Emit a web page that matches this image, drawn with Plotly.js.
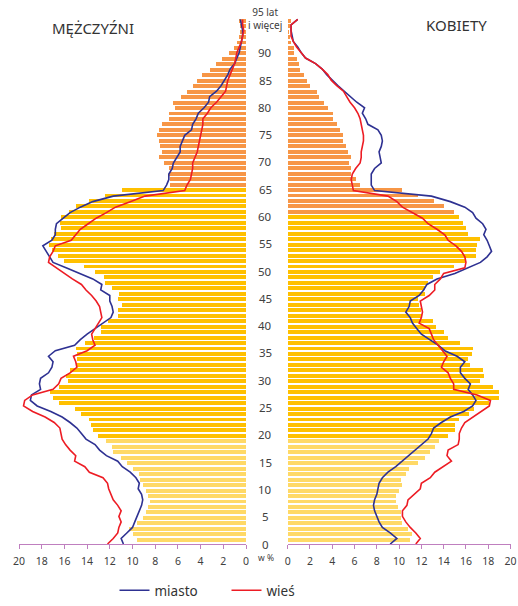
<!DOCTYPE html>
<html><head><meta charset="utf-8">
<script src="https://cdn.plot.ly/plotly-3.0.1.min.js"></script>
<style>html,body{margin:0;padding:0;background:#fff}#chart{width:518px;height:606px}</style>
</head><body><div id="chart"></div>
<script>
// ages 0..95 (95 = "95 lat i więcej")
const ages = Array.from({length: 96}, (_, i) => i);
const tickAges = [0,5,10,15,20,25,30,35,40,45,50,55,60,65,70,75,80,85,90];
const tickLabels = ["0","5","10","15","20","25","30","35","40","45","50","55","60","65","70","75","80","85","90"];
const topLabel = "95 lat<br>i więcej";

// total population bars, men (left) and women (right)
const menTotal = [9.6,10.0,10.3,9.6,9.1,8.8,8.6,8.5,8.6,8.8,
 9.1,9.3,9.4,10.0,10.5,11.0,11.7,11.8,12.3,13.0,
 13.5,13.7,13.8,14.5,15.1,16.5,17.0,17.3,16.5,15.7,
 15.9,15.5,15.0,14.9,14.9,15.0,14.2,13.4,12.8,12.8,
 12.2,11.3,11.3,10.9,11.3,11.2,11.8,12.4,12.5,13.3,
 14.3,16.0,16.6,17.1,17.4,17.2,16.9,16.3,16.4,16.3,
 15.6,15.0,13.8,12.4,10.9,6.7,6.7,6.8,6.8,7.2,
 7.7,7.4,7.6,7.7,7.8,7.7,7.4,6.8,6.8,6.3,
 6.4,5.7,5.2,4.7,4.3,3.9,3.2,2.6,2.1,1.5,
 1.1,0.8,0.6,0.5,0.5,0.6];
const womenTotal = [11.0,11.2,10.8,10.3,10.2,10.2,9.9,9.7,9.7,10.0,
 10.3,10.2,10.6,10.9,11.7,12.3,12.8,13.2,13.6,14.4,
 15.0,15.0,15.4,16.3,16.7,18.1,19.0,19.0,18.4,17.3,
 17.6,17.5,16.4,16.2,16.5,16.6,15.5,14.4,14.0,13.3,
 13.0,12.1,12.0,11.8,11.7,12.3,12.3,12.6,13.0,13.7,
 14.9,15.9,16.9,16.9,17.0,17.3,16.2,16.0,15.7,15.4,
 14.9,14.0,13.1,11.7,10.3,6.5,6.1,5.7,5.7,5.5,
 5.7,5.4,5.2,5.0,5.0,4.7,4.4,4.1,4.1,3.6,
 3.3,2.8,2.6,2.0,1.7,1.5,1.1,0.97,0.8,0.53,
 0.53,0.3,0.2,0.12,0.18,0.26];

// lines: miasto (city) and wieś (village)
const menCity = [10.8,11.0,10.5,10.0,9.8,9.6,9.4,9.2,9.1,9.2,
 9.5,9.4,9.7,10.2,10.9,11.3,12.3,12.9,13.3,14.1,
 14.5,14.9,15.5,16.2,17.2,18.4,19.0,18.9,18.1,18.2,
 18.1,17.4,17.1,17.0,17.4,16.8,15.1,14.6,14.0,13.3,
 12.6,11.9,11.7,11.8,12.0,12.0,12.8,12.7,13.5,14.6,
 15.8,17.0,17.3,17.6,17.9,17.1,16.8,16.8,16.7,16.1,
 15.5,14.6,13.5,11.7,7.3,7.0,6.8,6.8,6.5,6.4,
 6.1,5.8,5.8,5.6,5.4,4.8,4.7,4.4,4.2,3.7,
 3.3,3.2,2.6,2.2,1.9,1.6,1.4,1.0,0.8,0.6,
 0.5,0.4,0.3,0.3,0.4,0.5];
const menRural = [12.2,11.7,11.3,11.2,11.0,11.2,11.0,11.3,11.7,11.9,
 12.1,12.2,12.6,13.8,14.2,15.1,15.0,15.5,15.9,16.2,
 16.3,16.4,16.9,17.7,18.8,19.6,19.5,18.8,17.0,16.5,
 16.3,15.5,14.9,15.0,15.2,14.0,13.3,13.5,13.6,13.3,
 13.0,12.7,12.8,12.9,13.2,13.6,14.1,14.5,15.3,16.0,
 16.8,17.4,17.3,17.0,16.8,15.4,15.0,14.6,13.9,13.2,
 12.3,11.5,10.2,8.9,5.4,5.2,4.9,4.8,4.7,4.7,
 4.5,4.3,4.2,4.1,4.0,3.9,3.8,3.8,3.4,3.1,
 2.6,2.2,1.8,1.7,1.6,1.4,1.2,1.0,0.9,0.8,
 0.6,0.4,0.3,0.2,0.3,0.3];
const womenCity = [9.2,9.8,9.2,8.5,8.2,8.0,7.8,7.7,7.8,8.0,
 8.1,8.2,8.5,9.0,9.7,10.3,10.9,11.5,12.1,12.6,
 12.9,13.1,13.8,14.6,15.8,16.6,16.9,16.6,16.2,16.4,
 15.9,15.5,15.5,15.9,15.2,14.1,13.5,12.7,12.0,11.6,
 11.2,11.0,10.6,10.9,11.0,11.8,12.2,12.5,13.4,15.0,
 16.1,17.3,17.9,18.3,18.1,17.9,17.6,17.8,17.5,16.9,
 16.6,15.9,14.6,12.9,7.8,7.5,7.5,7.5,7.8,8.4,
 8.3,8.2,8.4,8.5,8.4,8.1,7.2,7.0,6.7,6.9,
 6.2,5.6,5.0,4.5,4.0,3.5,3.1,2.5,1.6,1.2,
 0.9,0.5,0.4,0.3,0.3,0.9];
const womenRural = [11.5,11.9,11.5,11.0,10.6,10.3,10.3,10.7,10.8,11.4,
 11.9,12.0,12.8,13.2,14.0,14.7,14.3,14.4,15.3,15.4,
 15.4,15.6,15.9,16.6,17.4,18.1,18.2,17.0,14.9,14.9,
 14.6,14.4,13.8,14.0,14.3,13.9,13.5,13.1,12.9,12.7,
 11.8,12.0,12.1,12.0,11.9,12.7,13.2,13.2,13.7,14.0,
 15.9,16.0,15.9,15.6,15.1,14.4,14.1,13.4,12.6,12.1,
 11.2,10.3,9.8,9.0,5.9,5.8,5.7,5.8,6.1,6.5,
 6.6,6.6,6.7,6.8,6.8,6.7,6.6,6.5,6.3,6.0,
 5.6,5.3,5.0,4.4,3.9,3.6,3.1,2.5,1.6,1.2,
 0.8,0.5,0.3,0.3,0.3,0.9];

const xTicks = [0,2,4,6,8,10,12,14,16,18,20];

// styling
const C_LIGHT = '#FFD966', C_YELLOW = '#FFC000', C_ORANGE = '#F79646';
const C_CITY = '#2E3192', C_RURAL = '#ED1C24';
const AXC = '#BF7FBF';
function barColors(retAge){
  return ages.map(a => a <= 18 ? C_LIGHT : (a < retAge ? C_YELLOW : C_ORANGE));
}
const FONT = 'Noto Sans, Open Sans, sans-serif';

const traces = [
  {type:'bar', orientation:'h', x: menTotal, y: ages, xaxis:'x', yaxis:'y',
   marker:{color: barColors(65), line:{width:0}}, width:0.72, showlegend:false, hoverinfo:'skip'},
  {type:'bar', orientation:'h', x: womenTotal, y: ages, xaxis:'x2', yaxis:'y',
   marker:{color: barColors(60), line:{width:0}}, width:0.72, showlegend:false, hoverinfo:'skip'},
  {type:'scatter', mode:'lines', x: menCity, y: ages, xaxis:'x', yaxis:'y2',
   line:{color:C_CITY, width:1.6}, name:'miasto', legendgroup:'m', showlegend:true},
  {type:'scatter', mode:'lines', x: menRural, y: ages, xaxis:'x', yaxis:'y2',
   line:{color:C_RURAL, width:1.6}, name:'wieś', legendgroup:'w', showlegend:true},
  {type:'scatter', mode:'lines', x: womenCity, y: ages, xaxis:'x2', yaxis:'y2',
   line:{color:C_CITY, width:1.6}, name:'miasto', legendgroup:'m', showlegend:false},
  {type:'scatter', mode:'lines', x: womenRural, y: ages, xaxis:'x2', yaxis:'y2',
   line:{color:C_RURAL, width:1.6}, name:'wieś', legendgroup:'w', showlegend:false}
];

const axBase = {
  tickvals: xTicks, ticktext: xTicks.map(String), showgrid:false, zeroline:false,
  showline:true, linecolor:AXC, linewidth:1.2, ticks:'outside', ticklen:4, tickcolor:AXC,
  tickfont:{size:10.5, color:'#404040', family:FONT}, anchor:'y', fixedrange:true,
  ticklabeloverflow:'allow', ticklabelstandoff:3
};

// age labels in the middle column (slightly below each bar row, as in the source)
const PLOT_H = 538, AGE_PX = 5.52;
const annotations = tickAges.map((a, i) => ({
  text: tickLabels[i], x: 0.5116, xref:'paper', y: a * AGE_PX / PLOT_H, yref:'paper',
  showarrow:false, xanchor:'center', yanchor:'middle',
  font:{size:11.5, color:'#404040', family:FONT}
}));
annotations.push({text: topLabel, x:0.5116, xref:'paper', y:95.3, yref:'y', showarrow:false,
  xanchor:'center', yanchor:'middle', font:{size:10, color:'#404040', family:FONT}});
annotations.push({text:'MĘŻCZYŹNI', x:93/518, xref:'paper', y:1-(28-12)/538, yref:'paper', showarrow:false,
  xanchor:'center', yanchor:'middle', font:{size:15, color:'#333', family:FONT}});
annotations.push({text:'KOBIETY', x:456/518, xref:'paper', y:1-(25-12)/538, yref:'paper', showarrow:false,
  xanchor:'center', yanchor:'middle', font:{size:15, color:'#333', family:FONT}});
annotations.push({text:'w %', x:266/518, xref:'paper', y:-(564-550)/538, yref:'paper', showarrow:false,
  xanchor:'center', yanchor:'middle', font:{size:8.5, color:'#404040', family:FONT}});

const layout = {
  width:518, height:606, margin:{l:0, r:0, t:12, b:56},
  paper_bgcolor:'#fff', plot_bgcolor:'rgba(0,0,0,0)',
  bargap:0, barmode:'overlay',
  font:{family:FONT, color:'#404040'},
  xaxis: Object.assign({}, axBase, {domain:[19/518, 246/518], range:[20, 0]}),
  xaxis2: Object.assign({}, axBase, {domain:[287.7/518, 510.5/518], range:[0, 20]}),
  yaxis: {range:[-0.78, 96.58], visible:false, fixedrange:true, anchor:'x'},
  yaxis2: {range:[0, 96.34], visible:false, overlaying:'y', fixedrange:true, anchor:'x'},
  showlegend:true,
  legend:{orientation:'h', x:226.5/518, xanchor:'center', y:-(597-550)/538, yanchor:'middle',
    font:{size:13.5, color:'#333', family:FONT}, entrywidth:67, entrywidthmode:'pixels',
    itemwidth:30, bgcolor:'rgba(0,0,0,0)'},
  annotations: annotations
};

Plotly.newPlot('chart', traces, layout, {displayModeBar:false, staticPlot:true});
</script>
</body></html>
